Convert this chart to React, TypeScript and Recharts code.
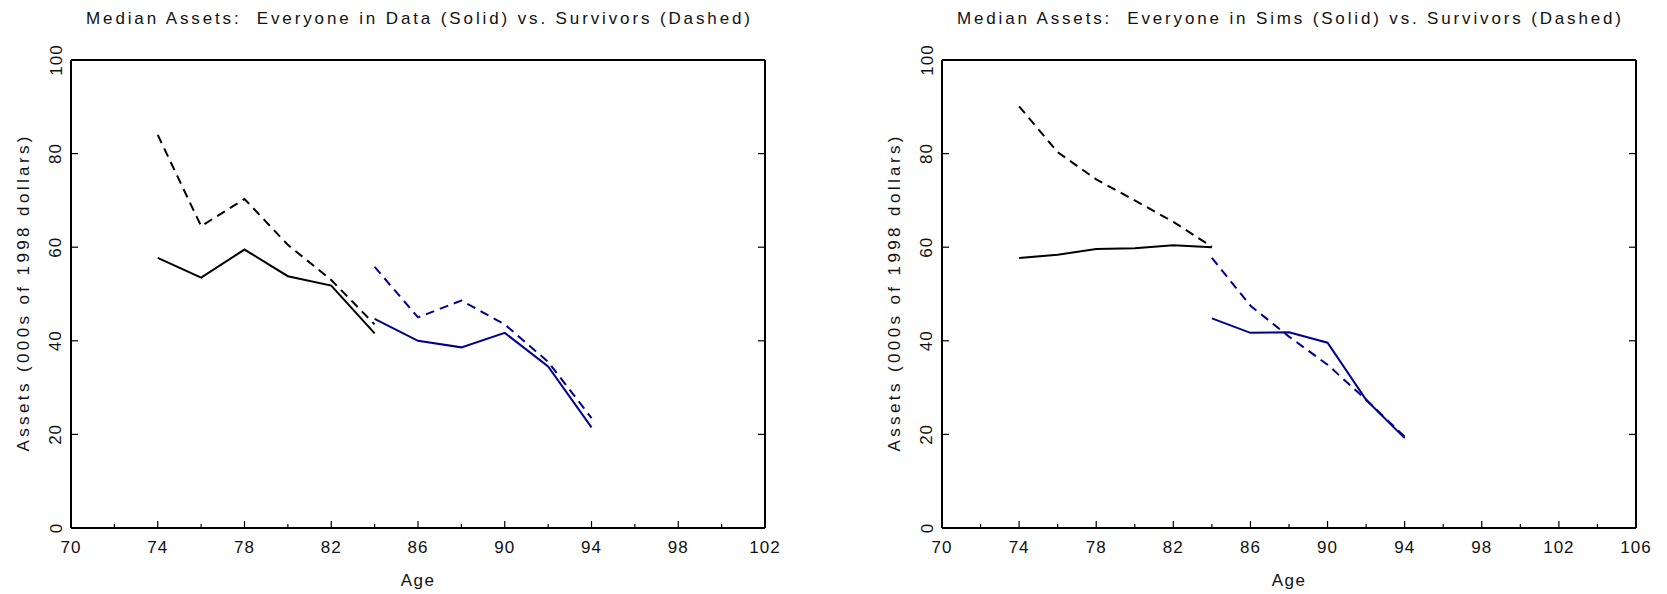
import React from 'react';
import { LineChart, Line, XAxis, YAxis } from 'recharts';

// ---- data ----
const agesEarly = [74, 76, 78, 80, 82, 84];
const agesLate = [84, 86, 88, 90, 92, 94];

// Left panel: data
const dataEveryoneEarly = [57.7, 53.5, 59.5, 53.8, 51.8, 41.6];
const dataSurvivorsEarly = [84.0, 64.5, 70.3, 60.5, 53.0, 43.5];
const dataEveryoneLate = [44.7, 40.0, 38.6, 41.7, 34.5, 21.5];
const dataSurvivorsLate = [55.8, 45.0, 48.6, 43.5, 35.5, 23.5];

// Right panel: simulations
const simsEveryoneEarly = [57.7, 58.4, 59.6, 59.8, 60.4, 60.0];
const simsSurvivorsEarly = [90.1, 80.3, 74.5, 70.0, 65.4, 60.1];
const simsEveryoneLate = [44.8, 41.7, 41.8, 39.6, 27.4, 19.2];
const simsSurvivorsLate = [57.7, 47.5, 40.9, 34.9, 27.4, 19.5];

const yTicks = [0, 20, 40, 60, 80, 100];
const xTicksLeft = [70, 72, 74, 76, 78, 80, 82, 84, 86, 88, 90, 92, 94, 96, 98, 100, 102];
const xTicksRight = [70, 72, 74, 76, 78, 80, 82, 84, 86, 88, 90, 92, 94, 96, 98, 100, 102, 104, 106];

const titleLeft = 'Median Assets:  Everyone in Data (Solid) vs. Survivors (Dashed)';
const titleRight = 'Median Assets:  Everyone in Sims (Solid) vs. Survivors (Dashed)';
const yLabel = 'Assets (000s of 1998 dollars)';
const xLabel = 'Age';

const BLACK = '#000000';
const NAVY = '#00008f';
const FONT = '"Liberation Sans", Arial, sans-serif';

const toPoints = (ages: number[], vals: number[]) => ages.map((a, i) => ({ age: a, v: vals[i] }));

const txt: React.CSSProperties = { fontFamily: FONT, fontSize: 17, fill: '#111', whiteSpace: 'pre' };

const bottomTick = (props: any) => {
  const { x, y, payload } = props;
  const v = payload.value;
  const major = (v - 70) % 4 === 0;
  return (
    <g>
      <line x1={x} x2={x} y1={y} y2={y - (major ? 7 : 4)} stroke={BLACK} strokeWidth={1.2} />
      {major && (
        <text x={x} y={y + 19} textAnchor="middle" dominantBaseline="central" letterSpacing={1} style={txt}>
          {v}
        </text>
      )}
    </g>
  );
};

const topTick = (props: any) => {
  const { x, y, payload } = props;
  const v = payload.value;
  const major = (v - 70) % 4 === 0;
  return <line x1={x} x2={x} y1={y} y2={y + (major ? 7 : 4)} stroke={BLACK} strokeWidth={1.2} />;
};

const leftTick = (props: any) => {
  const { x, y, payload } = props;
  const v = payload.value;
  const lx = x - 15;
  return (
    <g>
      {v !== 0 && v !== 100 && <line x1={x} x2={x + 7} y1={y} y2={y} stroke={BLACK} strokeWidth={1.2} />}
      <text
        x={lx}
        y={y}
        transform={`rotate(-90 ${lx} ${y})`}
        textAnchor="middle"
        dominantBaseline="central"
        letterSpacing={1}
        style={txt}
      >
        {v}
      </text>
    </g>
  );
};

const rightTick = (props: any) => {
  const { x, y, payload } = props;
  const v = payload.value;
  if (v === 0 || v === 100) return <g />;
  return <line x1={x} x2={x - 7} y1={y} y2={y} stroke={BLACK} strokeWidth={1.2} />;
};

const makeTitle = (title: string) => (props: any) => {
  const vb = props.viewBox || {};
  return (
    <text
      x={vb.x + vb.width / 2}
      y={18}
      textAnchor="middle"
      dominantBaseline="central"
      textLength={664}
      lengthAdjust="spacing"
      xmlSpace="preserve"
      style={txt}
    >
      {title}
    </text>
  );
};

const ageLabel = (props: any) => {
  const vb = props.viewBox || {};
  return (
    <text
      x={vb.x + vb.width / 2}
      y={vb.y + 52}
      textAnchor="middle"
      dominantBaseline="central"
      letterSpacing={1.5}
      style={txt}
    >
      {xLabel}
    </text>
  );
};

const assetsLabel = (props: any) => {
  const vb = props.viewBox || {};
  const cx = vb.x + vb.width - 48;
  const cy = vb.y + vb.height / 2;
  return (
    <text
      x={cx}
      y={cy}
      transform={`rotate(-90 ${cx} ${cy})`}
      textAnchor="middle"
      dominantBaseline="central"
      textLength={315}
      lengthAdjust="spacing"
      style={txt}
    >
      {yLabel}
    </text>
  );
};

const axisLine = { stroke: BLACK, strokeWidth: 2 };

type PanelProps = {
  width: number;
  leftW: number;
  rightW: number;
  xMax: number;
  xTicks: number[];
  title: string;
  s1: number[];
  d1: number[];
  s2: number[];
  d2: number[];
};

const Panel = ({ width, leftW, rightW, xMax, xTicks, title, s1, d1, s2, d2 }: PanelProps) => (
  <LineChart width={width} height={594} margin={{ top: 0, right: 0, bottom: 0, left: 0 }}>
    <XAxis
      xAxisId={0}
      dataKey="age"
      type="number"
      domain={[70, xMax]}
      ticks={xTicks}
      interval={0}
      height={66}
      tickSize={0}
      tickMargin={0}
      tickLine={false}
      axisLine={axisLine}
      tick={bottomTick}
      allowDataOverflow
      label={ageLabel}
    />
    <XAxis
      xAxisId="top"
      orientation="top"
      type="number"
      domain={[70, xMax]}
      ticks={xTicks}
      interval={0}
      height={60}
      tickSize={0}
      tickMargin={0}
      tickLine={false}
      axisLine={axisLine}
      tick={topTick}
      allowDataOverflow
      label={makeTitle(title)}
    />
    <YAxis
      yAxisId={0}
      type="number"
      domain={[0, 100]}
      ticks={yTicks}
      interval={0}
      width={leftW}
      tickSize={0}
      tickMargin={0}
      tickLine={false}
      axisLine={axisLine}
      tick={leftTick}
      allowDataOverflow
      label={assetsLabel}
    />
    <YAxis
      yAxisId="right"
      orientation="right"
      type="number"
      domain={[0, 100]}
      ticks={yTicks}
      interval={0}
      width={rightW}
      tickSize={0}
      tickMargin={0}
      tickLine={false}
      axisLine={axisLine}
      tick={rightTick}
      allowDataOverflow
    />
    <Line
      data={toPoints(agesEarly, d1)}
      dataKey="v"
      stroke={BLACK}
      strokeWidth={2}
      strokeDasharray="9 6"
      dot={false}
      type="linear"
      isAnimationActive={false}
    />
    <Line
      data={toPoints(agesEarly, s1)}
      dataKey="v"
      stroke={BLACK}
      strokeWidth={2}
      dot={false}
      type="linear"
      isAnimationActive={false}
    />
    <Line
      data={toPoints(agesLate, d2)}
      dataKey="v"
      stroke={NAVY}
      strokeWidth={2}
      strokeDasharray="9 6"
      dot={false}
      type="linear"
      isAnimationActive={false}
    />
    <Line
      data={toPoints(agesLate, s2)}
      dataKey="v"
      stroke={NAVY}
      strokeWidth={2}
      dot={false}
      type="linear"
      isAnimationActive={false}
    />
  </LineChart>
);

export default function App() {
  return (
    <div style={{ position: 'fixed', left: 0, top: 0, width: 1667, height: 594, background: '#fff' }}>
      <div style={{ position: 'absolute', left: 0, top: 0 }}>
        <Panel
          width={800}
          leftW={71}
          rightW={35}
          xMax={102}
          xTicks={xTicksLeft}
          title={titleLeft}
          s1={dataEveryoneEarly}
          d1={dataSurvivorsEarly}
          s2={dataEveryoneLate}
          d2={dataSurvivorsLate}
        />
      </div>
      <div style={{ position: 'absolute', left: 800, top: 0 }}>
        <Panel
          width={867}
          leftW={142}
          rightW={31}
          xMax={106}
          xTicks={xTicksRight}
          title={titleRight}
          s1={simsEveryoneEarly}
          d1={simsSurvivorsEarly}
          s2={simsEveryoneLate}
          d2={simsSurvivorsLate}
        />
      </div>
    </div>
  );
}
